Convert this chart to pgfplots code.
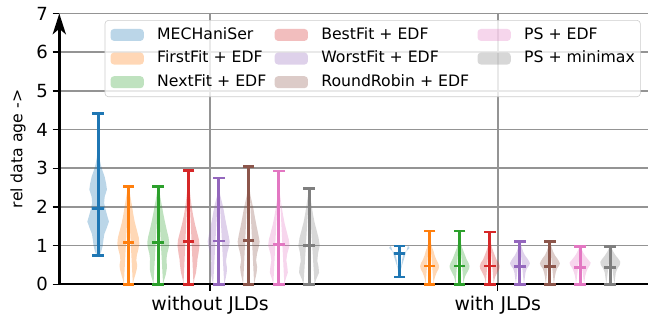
\documentclass[border=0pt]{standalone}
\usepackage{fontspec}
\setmainfont{DejaVu Sans}
\usepackage{pgfplots}
\usepackage{pgfplotstable}
\pgfplotsset{compat=1.18}
\usepgfplotslibrary{fillbetween}
\usetikzlibrary{arrows.meta}
\definecolor{C0}{HTML}{1F77B4}
\definecolor{C1}{HTML}{FF7F0E}
\definecolor{C2}{HTML}{2CA02C}
\definecolor{C3}{HTML}{D62728}
\definecolor{C4}{HTML}{9467BD}
\definecolor{C5}{HTML}{8C564B}
\definecolor{C6}{HTML}{E377C2}
\definecolor{C7}{HTML}{7F7F7F}
% violin profiles: y and half width (px)
\pgfplotstableread{
y w
0.75 1.5
0.85 3.2
1.00 4.6
1.15 5.3
1.30 6.2
1.45 8.5
1.62 10.8
1.78 9
1.95 7.2
2.10 6
2.26 6.5
2.45 8.8
2.60 8
2.78 6.5
2.95 4.2
3.10 2.5
3.30 1.2
3.60 0.5
4.00 0.2
4.42 0.1
}\vA
\pgfplotstableread{
y w
0.00 4.5
0.12 5.5
0.25 7
0.40 8.5
0.50 8.8
0.62 8
0.75 8.5
0.90 10
1.05 11
1.20 10.5
1.40 8.5
1.60 6.5
1.80 5
2.00 3.8
2.20 2.5
2.35 1.5
2.52 0.5
}\vB
\pgfplotstableread{
y w
0.00 4.8
0.12 6
0.25 7.5
0.40 8.5
0.52 8.5
0.65 8.2
0.80 9
0.95 10.5
1.08 11
1.22 10.2
1.40 8.5
1.60 6.8
1.80 5.2
2.00 3.8
2.20 2.4
2.35 1.4
2.52 0.5
}\vC
\pgfplotstableread{
y w
0.00 5
0.15 6
0.30 7.5
0.50 8.5
0.65 9
0.80 10
1.00 11
1.15 10.5
1.35 8.5
1.55 6.5
1.80 4.5
2.00 3.2
2.25 2
2.50 1
2.70 0.5
2.95 0.1
}\vD
\pgfplotstableread{
y w
0.00 5.5
0.12 6.7
0.30 8
0.42 8.3
0.60 7.3
0.80 8.5
0.95 10
1.10 11
1.25 10
1.50 8
1.70 6.5
1.92 5
2.10 3.5
2.30 1.5
2.50 0.6
2.75 0.1
}\vE
\pgfplotstableread{
y w
0.00 5.5
0.12 6.5
0.30 8
0.45 8.5
0.62 7.5
0.80 8.5
0.95 10
1.10 11
1.25 10
1.50 8
1.70 6.5
1.92 5
2.10 3.5
2.30 1.8
2.50 0.8
2.75 0.3
3.04 0.1
}\vF
\pgfplotstableread{
y w
0.00 5.5
0.12 6.7
0.30 9
0.45 8.5
0.62 7.5
0.80 8.5
1.00 10.7
1.15 10
1.35 8
1.55 6
1.75 4.5
1.95 3.2
2.15 2
2.35 1
2.60 0.4
2.93 0.1
}\vG
\pgfplotstableread{
y w
0.00 5.5
0.12 7
0.30 10
0.45 9.5
0.60 8.3
0.80 9
1.00 10.7
1.20 9.5
1.40 7.5
1.60 5.5
1.80 4
2.00 2.8
2.20 1.6
2.35 0.8
2.48 0.3
}\vH
\pgfplotstableread{
y w
0.19 0.8
0.30 1.2
0.45 1.8
0.60 2.5
0.70 3.2
0.78 4
0.84 6
0.89 8.5
0.93 10
0.96 10
0.99 8.5
}\vI
\pgfplotstableread{
y w
0.00 4
0.10 4.5
0.20 5.5
0.30 7
0.40 9
0.47 9.5
0.55 8.5
0.65 6.5
0.75 5
0.85 4
0.95 2.5
1.05 1.5
1.20 0.7
1.38 0.2
}\vJ
\pgfplotstableread{
y w
0.00 4
0.10 4.5
0.20 5.5
0.30 7.5
0.40 9.5
0.47 10
0.55 9
0.65 7
0.75 5.5
0.85 4
0.95 2.5
1.05 1.5
1.20 0.7
1.38 0.2
}\vK
\pgfplotstableread{
y w
0.00 4
0.10 4.5
0.20 5.5
0.30 7.5
0.40 9.5
0.47 10
0.55 9
0.65 6.5
0.75 5
0.85 3.5
0.95 2.2
1.05 1.3
1.20 0.6
1.35 0.2
}\vL
\pgfplotstableread{
y w
0.00 4
0.10 4.5
0.20 5
0.30 5.5
0.40 6.7
0.48 9
0.54 10
0.60 9
0.67 7.3
0.75 5
0.84 3.3
0.95 1.8
1.02 1
1.10 0.3
}\vM
\pgfplotstableread{
y w
0.00 4
0.10 4.5
0.20 5
0.30 5.8
0.40 7
0.48 9.2
0.54 10
0.60 9
0.67 7.3
0.75 5
0.84 3.3
0.95 1.8
1.03 1
1.11 0.3
}\vN
\pgfplotstableread{
y w
0.00 4
0.10 4.5
0.20 5
0.30 6
0.40 7.5
0.50 10
0.56 10.5
0.64 8
0.72 5.5
0.80 3.5
0.88 2
0.97 0.5
}\vO
\pgfplotstableread{
y w
0.00 4
0.10 4.5
0.20 5
0.30 5.5
0.40 7
0.50 9.5
0.58 10
0.66 8
0.74 5.5
0.82 3.5
0.90 1.8
0.97 0.5
}\vP
% #1 name, #2 center, #3 colour, #4 table
\newcommand{\violin}[4]{%
  \addplot[draw=none, forget plot, name path=R#1] table[x expr=#2+\thisrow{w}/287.7, y=y] {#4};
  \addplot[draw=none, forget plot, name path=L#1] table[x expr=#2-\thisrow{w}/287.7, y=y] {#4};
  \addplot[fill=#3, fill opacity=0.3, draw=none, forget plot] fill between[of=R#1 and L#1];
}
% #1 center, #2 colour, #3 min, #4 max, #5 median
\newcommand{\whisk}[5]{%
  \addplot[#2, line width=2.2pt, mark=-, mark size=4.2pt, mark options={solid, line width=2pt}, forget plot] coordinates {(#1,#3) (#1,#4)};
  \addplot[#2, line width=2pt, only marks, mark=-, mark size=4.2pt, forget plot] coordinates {(#1,#5)};
}
\pgfplotsset{vleg/.style={legend image code/.code={\fill[#1,draw=none,fill opacity=0.3] (0pt,-4.3pt) rectangle (24pt,4.3pt);}}}
\begin{document}
\begin{tikzpicture}
\begin{axis}[name=ax, scale only axis, width=423.9pt, height=195pt,
  xmin=-0.524, xmax=1.522, ymin=0, ymax=7,
  axis x line*=bottom, axis y line*=left,
  x axis line style={line width=1.2pt, -},
  y axis line style={line width=1.9pt, -{Stealth[length=15pt,width=9.5pt,inset=4pt]}},
  xtick={0,1}, xticklabels={without JLDs, with JLDs},
  ytick={0,1,...,7},
  grid=major, major grid style={line width=1.2pt, color=black!42},
  tick align=outside, major tick length=4.75pt,
  tick style={black, line width=1pt},
  x tick label style={font=\fontsize{13.6}{16}\selectfont},
  y tick label style={font=\fontsize{13}{15}\selectfont},
  /pgf/number format/assume math mode=true,
  ylabel={rel data age ->},
  ylabel style={at={(axis description cs:-0.0702,0.5)}, anchor=center, font=\fontsize{11.3}{13}\selectfont},
  clip=false,
  legend columns=3, legend cell align=left,
  legend style={at={(0.9876,0.9756)}, anchor=north east, draw=black!20, fill=white, fill opacity=0.8, text opacity=1,
    rounded corners=2.5pt, inner xsep=4pt, inner ysep=5pt, row sep=6pt,
    font=\fontsize{11.3}{13}\selectfont,
    nodes={inner sep=0pt, text height=8.5pt, text depth=2.5pt},
    /tikz/every odd column/.append style={column sep=9.6pt},
    /tikz/every even column/.append style={column sep=6pt}},
]
\violin{A}{-0.389}{C0}{\vA}
\violin{B}{-0.284}{C1}{\vB}
\violin{C}{-0.180}{C2}{\vC}
\violin{D}{-0.075}{C3}{\vD}
\violin{E}{0.030}{C4}{\vE}
\violin{F}{0.134}{C5}{\vF}
\violin{G}{0.239}{C6}{\vG}
\violin{H}{0.344}{C7}{\vH}
\violin{I}{0.658}{C0}{\vI}
\violin{J}{0.763}{C1}{\vJ}
\violin{K}{0.867}{C2}{\vK}
\violin{L}{0.972}{C3}{\vL}
\violin{M}{1.077}{C4}{\vM}
\violin{N}{1.181}{C5}{\vN}
\violin{O}{1.286}{C6}{\vO}
\violin{P}{1.391}{C7}{\vP}
\whisk{-0.389}{C0}{0.75}{4.42}{1.95}
\whisk{-0.284}{C1}{0}{2.52}{1.085}
\whisk{-0.180}{C2}{0}{2.52}{1.085}
\whisk{-0.075}{C3}{0}{2.95}{1.10}
\whisk{0.030}{C4}{0}{2.75}{1.12}
\whisk{0.134}{C5}{0}{3.04}{1.14}
\whisk{0.239}{C6}{0}{2.93}{1.03}
\whisk{0.344}{C7}{0}{2.48}{1.01}
\whisk{0.658}{C0}{0.19}{0.99}{0.80}
\whisk{0.763}{C1}{0}{1.38}{0.47}
\whisk{0.867}{C2}{0}{1.38}{0.47}
\whisk{0.972}{C3}{0}{1.35}{0.47}
\whisk{1.077}{C4}{0}{1.10}{0.45}
\whisk{1.181}{C5}{0}{1.11}{0.45}
\whisk{1.286}{C6}{0}{0.97}{0.43}
\whisk{1.391}{C7}{0}{0.97}{0.43}
\addlegendimage{vleg=C0}\addlegendentry{MECHaniSer}
\addlegendimage{vleg=C3}\addlegendentry{BestFit + EDF}
\addlegendimage{vleg=C6}\addlegendentry{PS + EDF}
\addlegendimage{vleg=C1}\addlegendentry{FirstFit + EDF}
\addlegendimage{vleg=C4}\addlegendentry{WorstFit + EDF}
\addlegendimage{vleg=C7}\addlegendentry{PS + minimax}
\addlegendimage{vleg=C2}\addlegendentry{NextFit + EDF}
\addlegendimage{vleg=C5}\addlegendentry{RoundRobin + EDF}
\end{axis}
\pgfresetboundingbox
\path (ax.south west) ++(-42.7pt,-25.7pt) rectangle ++(477.4pt,230.4pt);
\end{tikzpicture}
\end{document}
